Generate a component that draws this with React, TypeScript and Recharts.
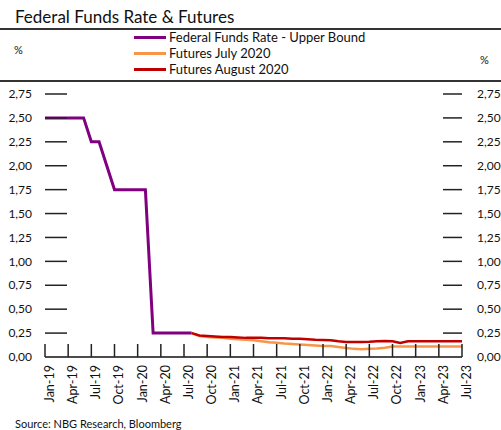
import { LineChart, Line, XAxis, YAxis } from "recharts"

const monthNames = ["Jan", "Feb", "Mar", "Apr", "May", "Jun", "Jul", "Aug", "Sep", "Oct", "Nov", "Dec"]
const years = ["19", "20", "21", "22", "23"]

// Jan-19 .. Jul-23
const months: string[] = []
years.forEach((yr) => {
  monthNames.forEach((m) => {
    if (months.length < 55) months.push(m + "-" + yr)
  })
})

// Jan-19 .. Aug-20
const fedFunds = [
  2.5, 2.5, 2.5, 2.5, 2.5, 2.5, 2.25, 2.25, 2.0, 1.75, 1.75, 1.75,
  1.75, 1.75, 0.25, 0.25, 0.25, 0.25, 0.25, 0.25
]

// Aug-20 .. Jul-23
const futuresJuly = [
  0.25, 0.22, 0.21, 0.205, 0.2, 0.19, 0.185, 0.18, 0.175, 0.165, 0.155, 0.15,
  0.14, 0.135, 0.13, 0.125, 0.12, 0.115, 0.115, 0.105, 0.095, 0.085, 0.08, 0.085,
  0.09, 0.097, 0.11, 0.11, 0.11, 0.11, 0.11, 0.11, 0.11, 0.11, 0.11, 0.11
]
const futuresAugust = [
  0.25, 0.225, 0.22, 0.215, 0.21, 0.21, 0.205, 0.2, 0.2, 0.2, 0.195, 0.195,
  0.195, 0.19, 0.19, 0.185, 0.18, 0.178, 0.175, 0.165, 0.157, 0.157, 0.157, 0.16,
  0.165, 0.168, 0.165, 0.146, 0.165, 0.165, 0.165, 0.165, 0.165, 0.165, 0.165, 0.165
]
const futuresStart = 19

const yTicks = [0, 0.25, 0.5, 0.75, 1, 1.25, 1.5, 1.75, 2, 2.25, 2.5, 2.75]

const data = months.map((m, i) => ({
  month: m,
  fed: i < fedFunds.length ? fedFunds[i] : null,
  jul: i >= futuresStart ? futuresJuly[i - futuresStart] : null,
  aug: i >= futuresStart ? futuresAugust[i - futuresStart] : null
}))

const font = "Lato, 'Open Sans', sans-serif"
const fmt = (v: number) => Number(v).toFixed(2).replace(".", ",")

function LeftTick(props: any) {
  const { x, y, payload } = props
  return (
    <g>
      {payload.value > 0 && <path d={`M${x},${y}H${x + 22}`} stroke="#222" strokeWidth={1.5} />}
      <text x={x - 13} y={y} dy="0.35em" textAnchor="end" fontSize={12} fontFamily={font} fill="#111">
        {fmt(payload.value)}
      </text>
    </g>
  )
}

function RightTick(props: any) {
  const { x, y, payload } = props
  return (
    <g>
      {payload.value > 0 && <path d={`M${x - 19},${y}H${x}`} stroke="#222" strokeWidth={1.5} />}
      <text x={x + 15} y={y} dy="0.35em" fontSize={12} fontFamily={font} fill="#111">
        {fmt(payload.value)}
      </text>
    </g>
  )
}

const legendItems = [
  { label: "Federal Funds Rate - Upper Bound", color: "#800080" },
  { label: "Futures July 2020", color: "#F79646" },
  { label: "Futures August 2020", color: "#C00000" }
]

const txt = { position: "absolute" as const, fontFamily: font, color: "#111", whiteSpace: "nowrap" as const }

export default function App() {
  return (
    <div style={{ position: "absolute", left: 0, top: 0, width: 501, height: 430, background: "#fff" }}>
      <LineChart width={501} height={430} data={data} margin={{ top: 94, right: 0, bottom: 0, left: 0 }}>
        <YAxis yAxisId="left" domain={[0, 2.75]} ticks={yTicks} width={45} tickSize={0} tickMargin={0} axisLine={false} tickLine={false} tick={<LeftTick />} />
        <YAxis yAxisId="right" orientation="right" domain={[0, 2.75]} ticks={yTicks} width={39} tickSize={0} tickMargin={0} axisLine={false} tickLine={false} tick={<RightTick />} />
        <XAxis
          dataKey="month"
          interval={2}
          height={73}
          tickSize={-13}
          tickMargin={21}
          tickLine={{ stroke: "#222", strokeWidth: 1.5 }}
          axisLine={{ stroke: "#111", strokeWidth: 1.5 }}
          tick={{ angle: -90, textAnchor: "end", verticalAnchor: "middle", fontSize: 12.5, fill: "#111", fontFamily: font }}
        />
        <Line yAxisId="left" dataKey="fed" stroke="#800080" strokeWidth={3} dot={false} isAnimationActive={false} />
        <Line yAxisId="left" dataKey="jul" stroke="#F79646" strokeWidth={2.5} dot={false} isAnimationActive={false} />
        <Line yAxisId="right" dataKey="aug" stroke="#C00000" strokeWidth={2.5} dot={false} isAnimationActive={false} />
      </LineChart>

      <div style={{ ...txt, left: 15, top: 6, fontSize: 17 }}>Federal Funds Rate &amp; Futures</div>
      <div style={{ position: "absolute", left: 0, top: 28, width: 501, height: 2, background: "#333" }} />
      <div style={{ position: "absolute", left: 0, top: 80, width: 501, height: 2, background: "#333" }} />
      <div style={{ ...txt, left: 14, top: 43, fontSize: 11 }}>%</div>
      <div style={{ ...txt, left: 480, top: 53, fontSize: 11 }}>%</div>
      {legendItems.map((it, i) => (
        <div key={it.label} style={{ ...txt, left: 134, top: 29 + i * 16, height: 16, display: "flex", alignItems: "center" }}>
          <div style={{ width: 32, height: 3, background: it.color, marginRight: 3 }} />
          <span style={{ fontSize: 13 }}>{it.label}</span>
        </div>
      ))}
      <div style={{ ...txt, left: 15, top: 417, fontSize: 11 }}>Source: NBG Research, Bloomberg</div>
    </div>
  )
}
